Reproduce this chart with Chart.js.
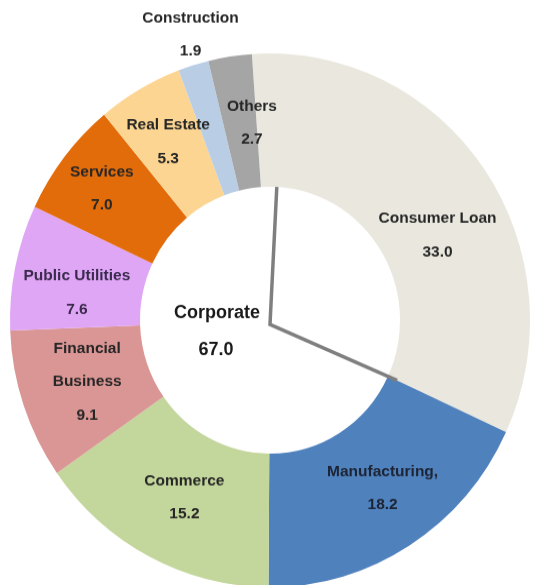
<!DOCTYPE html>
<html>
<head>
<meta charset="utf-8">
<script src="https://cdn.jsdelivr.net/npm/chart.js@4/dist/chart.umd.min.js"></script>
<style>
  html, body { margin: 0; padding: 0; background: #ffffff; overflow: hidden; }
  #frame { width: 541px; height: 585px; overflow: hidden; position: relative; }
  #stage { width: 541px; height: 600px; transform: scaleY(1.0263); transform-origin: 0 0; }
  canvas { display: block; }
</style>
</head>
<body>
<div id="frame"><div id="stage"><canvas id="chart" width="541" height="600"></canvas></div></div>
<script>
// Loan portfolio by sector (%)
const categories = ['Consumer Loan', 'Manufacturing,', 'Commerce', ['Financial', 'Business'],
  'Public Utilities', 'Services', 'Real Estate', 'Construction', 'Others'];
const shares = [33.0, 18.2, 15.2, 9.1, 7.6, 7.0, 5.3, 1.9, 2.7];
const corporateLabel = 'Corporate';
const corporateShare = 67.0;

const sliceColors = ['#EAE8DE', '#4F81BD', '#C3D69B', '#DA9694', '#E0A6F6',
  '#E36C0A', '#FCD592', '#B9CDE5', '#A5A5A5'];
const textColors = ['#262626', '#1d2433', '#262626', '#262626', '#3a2b4d',
  '#262626', '#262626', '#262626', '#262626'];
// fine placement of each slice label relative to the ring centre line
const labelNudge = [[7, 28], [8, -1], [5, 0], [2, -2], [-2, 12],
  [-14, -9], [-4, -5], [-22, -92], [12, 0]];

const sliceLabels = {
  id: 'sliceLabels',
  afterDatasetsDraw(chart) {
    const ctx = chart.ctx;
    const meta = chart.getDatasetMeta(0);
    const first = meta.data[0].getProps(['x', 'y', 'startAngle', 'endAngle', 'innerRadius'], true);
    const cx = first.x, cy = first.y;
    const rIn = first.innerRadius;

    // divider between consumer and corporate lending
    const a0 = first.startAngle + 7 * Math.PI / 180;
    const a1 = first.endAngle;
    ctx.save();
    ctx.strokeStyle = '#7f7f7f';
    ctx.lineWidth = 3.5;
    ctx.lineJoin = 'miter';
    ctx.beginPath();
    ctx.moveTo(cx + Math.cos(a0) * rIn, cy + Math.sin(a0) * rIn);
    ctx.lineTo(cx, cy + 4);
    ctx.lineTo(cx + Math.cos(a1) * (rIn + 10), cy + Math.sin(a1) * (rIn + 10));
    ctx.stroke();
    ctx.restore();

    ctx.save();
    ctx.textAlign = 'center';
    ctx.textBaseline = 'middle';
    ctx.font = 'bold 15.5px "Liberation Sans", Arial, sans-serif';
    const gap = 32.2;
    meta.data.forEach((arc, i) => {
      const p = arc.tooltipPosition(true);
      const name = Array.isArray(categories[i]) ? categories[i] : [categories[i]];
      const lines = name.concat([shares[i].toFixed(1)]);
      const x = p.x + labelNudge[i][0];
      const y = p.y + labelNudge[i][1];
      ctx.fillStyle = textColors[i];
      const top = y - gap * (lines.length - 1) / 2;
      lines.forEach((t, k) => ctx.fillText(t, x, top + k * gap));
    });

    ctx.font = 'bold 18px "Liberation Sans", Arial, sans-serif';
    ctx.fillStyle = '#1a1a1a';
    ctx.fillText(corporateLabel, cx - 53, cy - 7);
    ctx.fillText(corporateShare.toFixed(1), cx - 54, cy + 29);
    ctx.restore();
  }
};

new Chart(document.getElementById('chart'), {
  type: 'doughnut',
  data: {
    labels: categories,
    datasets: [{
      data: shares,
      backgroundColor: sliceColors,
      borderWidth: 0
    }]
  },
  options: {
    responsive: false,
    animation: false,
    rotation: -4,
    cutout: '50%',
    layout: { padding: { left: 10, right: 11, top: 52, bottom: 28 } },
    plugins: {
      legend: { display: false },
      tooltip: { enabled: false }
    }
  },
  plugins: [sliceLabels]
});
</script>
</body>
</html>
